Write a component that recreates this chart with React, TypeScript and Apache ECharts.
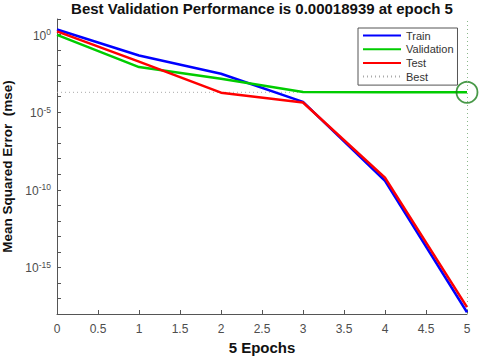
import React, { useEffect, useRef } from "react";
import * as echarts from "echarts";

const epochs = [0, 1, 2, 3, 4, 5];
const trainPerf = [2.1, 0.045, 0.003, 4.6e-5, 3.8e-10, 1.3e-18];
const valPerf = [0.95, 0.008, 0.0014, 0.0002, 0.00019, 0.00018939];
const testPerf = [1.6, 0.018, 0.00018, 4.2e-5, 6e-10, 2.8e-18];
const bestValue = 0.00018939;
const bestEpoch = 5;
const seriesNames = ["Train", "Validation", "Test", "Best"];
const titleText = "Best Validation Performance is 0.00018939 at epoch 5";
const xName = "5 Epochs";
const yName = "Mean Squared Error  (mse)";

const FONT = "'Liberation Sans', Arial, Helvetica, sans-serif";

export default function App() {
  const ref = useRef<HTMLDivElement>(null);
  useEffect(() => {
    if (!ref.current) return;
    const chart = echarts.init(ref.current, null, { renderer: "svg" });
    const pairs = (vals: number[]) => epochs.map((e, i) => [e, vals[i]]);
    const labelColor = "#4d4d4d";
    const axisColor = "#555";
    chart.setOption({
      animation: false,
      backgroundColor: "#fff",
      textStyle: { fontFamily: FONT },
      grid: { left: 57, right: 13, top: 19, bottom: 42, outerBoundsMode: "none", containLabel: false },
      graphic: [
        {
          type: "text",
          x: 262,
          y: 8,
          style: {
            text: titleText,
            fontFamily: FONT,
            fontSize: 15,
            fontWeight: "bold",
            fill: "#111",
            textAlign: "center",
            textVerticalAlign: "middle",
          },
        },
      ],
      legend: {
        data: seriesNames,
        orient: "vertical",
        left: 358,
        top: 28,
        itemWidth: 38,
        itemHeight: 12,
        itemGap: 2.7,
        padding: [2, 4, 3, 4],
        backgroundColor: "#fff",
        borderColor: "#555",
        borderWidth: 1,
        borderRadius: 0,
        itemStyle: { color: "rgba(0,0,0,0)", borderWidth: 0, opacity: 0 },
        textStyle: { fontFamily: FONT, fontSize: 11, color: "#333" },
      },
      xAxis: {
        type: "value",
        min: 0,
        max: 5,
        interval: 0.5,
        name: xName,
        nameLocation: "middle",
        nameGap: 23,
        nameTextStyle: { fontFamily: FONT, fontSize: 15, fontWeight: "bold", color: "#111" },
        axisLine: { show: true, lineStyle: { color: axisColor, width: 1 } },
        axisTick: { show: true, inside: true, length: 4, lineStyle: { color: axisColor } },
        axisLabel: { fontFamily: FONT, fontSize: 12, color: labelColor, margin: 9 },
        splitLine: { show: false },
      },
      yAxis: {
        type: "log",
        logBase: 10,
        min: 1e-18,
        max: 10,
        interval: 1,
        name: yName,
        nameLocation: "middle",
        nameGap: 36,
        nameTextStyle: { fontFamily: FONT, fontSize: 13.5, fontWeight: "bold", color: "#111" },
        axisLine: { show: true, lineStyle: { color: axisColor, width: 1 } },
        axisTick: { show: true, inside: true, length: 4, interval: 0, lineStyle: { color: axisColor } },
        axisLabel: {
          margin: 6,
          interval: 0,
          formatter: (v: number) => {
            const n = Math.round(Math.log10(v));
            if (n % 5 !== 0) return "";
            return `{b|10}{s|${n === 0 ? 0 : n}}`;
          },
          rich: {
            b: { fontFamily: FONT, fontSize: 12, color: labelColor, lineHeight: 14, verticalAlign: "bottom" },
            s: { fontFamily: FONT, fontSize: 8.5, color: labelColor, lineHeight: 14, verticalAlign: "top" },
          },
        },
        splitLine: { show: false },
      },
      series: [
        {
          name: "Train",
          type: "line",
          data: pairs(trainPerf),
          symbol: "none",
          lineStyle: { color: "#0000ff", width: 2.5 },
          itemStyle: { color: "#0000ff" },
          z: 3,
        },
        {
          name: "Validation",
          type: "line",
          data: pairs(valPerf),
          symbol: "none",
          lineStyle: { color: "#00cc00", width: 2.5 },
          itemStyle: { color: "#00cc00" },
          z: 3,
        },
        {
          name: "Test",
          type: "line",
          data: pairs(testPerf),
          symbol: "none",
          lineStyle: { color: "#ff0000", width: 2.5 },
          itemStyle: { color: "#ff0000" },
          z: 3,
        },
        {
          name: "Best",
          type: "line",
          data: [
            [0, bestValue],
            [bestEpoch, bestValue],
          ],
          symbol: "none",
          lineStyle: { color: "#aaa", width: 1, type: [1, 3] },
          itemStyle: { color: "#aaa" },
          z: 2,
          markLine: {
            silent: true,
            symbol: "none",
            label: { show: false },
            lineStyle: { color: "#8ab88a", width: 1, type: [1, 3] },
            data: [{ xAxis: bestEpoch }],
          },
        },
        {
          name: "BestPoint",
          type: "scatter",
          data: [[bestEpoch, bestValue]],
          symbol: "circle",
          symbolSize: 21,
          clip: false,
          itemStyle: { color: "rgba(0,0,0,0)", borderColor: "#1a801a", borderWidth: 1.8 },
          z: 4,
        },
      ],
    });
    return () => chart.dispose();
  }, []);
  return (
    <div
      ref={ref}
      style={{ position: "fixed", left: 0, top: 0, width: 480, height: 356, background: "#fff" }}
    />
  );
}
